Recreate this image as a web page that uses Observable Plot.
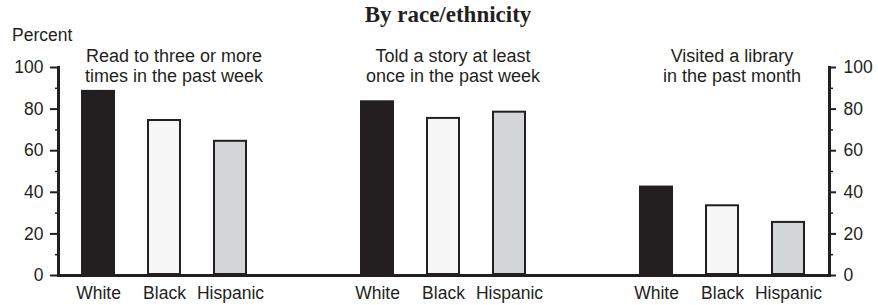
<!DOCTYPE html>
<html>
<head>
<meta charset="utf-8">
<script src="https://cdn.jsdelivr.net/npm/d3@7"></script>
<script src="https://cdn.jsdelivr.net/npm/@observablehq/plot@0.6"></script>
<style>
  html, body { margin: 0; padding: 0; background: #fff; }
  #wrap { position: relative; width: 878px; height: 305px; overflow: hidden; font-family: "Liberation Sans", Arial, sans-serif; color: #231f20; }
  #title { height: 26px; box-sizing: border-box; padding-top: 4px; line-height: 22px; text-align: center; font-family: "Liberation Serif", "Times New Roman", serif; font-weight: bold; font-size: 23px; position: relative; left: 9px; }
  #ylabel { position: absolute; left: 12px; top: 27px; font-size: 17.5px; line-height: 1; }
  svg { display: block; }
</style>
</head>
<body>
<div id="wrap">
  <div id="title">By race/ethnicity</div>
  <div id="ylabel">Percent</div>
  <div id="chart"></div>
</div>
<script>
const groups = [
  "Read to three or more\ntimes in the past week",
  "Told a story at least\nonce in the past week",
  "Visited a library\nin the past month"
];
const races = ["White", "Black", "Hispanic"];
const readValues = [89, 75, 65];
const storyValues = [84, 76, 79];
const libraryValues = [43, 34, 26];
const yTicks = [0, 20, 40, 60, 80, 100];
const yMinorTicks = [10, 30, 50, 70, 90];
const raceColors = ["#231f20", "#f7f7f7", "#d4d5d7"];

const seriesByGroup = [readValues, storyValues, libraryValues];
const data = groups.flatMap((g, i) => races.map((r, j) => ({group: g, race: r, value: seriesByGroup[i][j]})));
const labels = groups.map(g => ({group: g}));

const ink = "#231f20";
const fs = 17.5;
const lfs = 18;

const chart = Plot.plot({
  width: 878,
  height: 279,
  marginTop: 41,
  marginBottom: 30,
  marginLeft: 57,
  marginRight: 48,
  style: {fontFamily: "'Liberation Sans', Arial, sans-serif", fontSize: fs + "px", color: ink, background: "white"},
  fx: {domain: groups, paddingInner: 0.236, paddingOuter: 0, axis: null, label: null},
  x: {domain: races, paddingInner: 0.478, paddingOuter: 0.337, label: null},
  y: {domain: [0, 100], label: null},
  color: {domain: races, range: raceColors},
  marks: [
    Plot.barY(data, {fx: "group", x: "race", y: "value", fill: "race", stroke: ink, strokeWidth: 2, inset: 1}),
    Plot.text(labels, {fx: "group", text: "group", frameAnchor: "top", lineAnchor: "middle", dx: 9, dy: -1.5, fontSize: lfs, lineHeight: 20 / lfs, fill: ink}),
    Plot.axisX({tickSize: 0, tickPadding: 11, fontSize: fs, label: null, fill: ink}),
    Plot.axisY({anchor: "left", ticks: yTicks, tickSize: 8, tickPadding: 7, strokeWidth: 2, fontSize: fs, label: null, stroke: ink, fill: ink}),
    Plot.axisY({anchor: "left", ticks: yMinorTicks, tickSize: 3, tickFormat: () => "", label: null, stroke: ink, strokeWidth: 1.5}),
    Plot.axisY({anchor: "right", ticks: yTicks, tickSize: 6, tickPadding: 8, strokeWidth: 2, fontSize: fs, label: null, stroke: ink, fill: ink}),
    Plot.axisY({anchor: "right", ticks: yMinorTicks, tickSize: 3, tickFormat: () => "", label: null, stroke: ink, strokeWidth: 1.5}),
    Plot.frame({facet: "super", anchor: "left", stroke: ink, strokeWidth: 3}),
    Plot.frame({facet: "super", anchor: "right", stroke: ink, strokeWidth: 3}),
    Plot.frame({facet: "super", anchor: "bottom", stroke: ink, strokeWidth: 3})
  ]
});
document.getElementById("chart").appendChild(chart);
</script>
</body>
</html>
